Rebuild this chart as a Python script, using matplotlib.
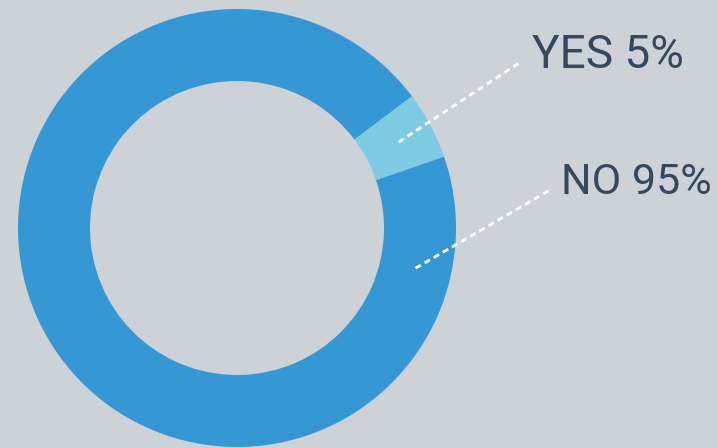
import numpy as np
import matplotlib.pyplot as plt

labels = ["YES", "NO"]
values = [5, 95]
colors = ["#7ecbe3", "#3598d4"]

bg = "#cdd2d6"
text_color = "#34495e"

W, H = 718, 448
cx, cy = 237, 220
r_out, r_in = 219, 147

fig = plt.figure(figsize=(W / 100, H / 100), dpi=100, facecolor=bg)
ax = fig.add_axes([0, 0, 1, 1])
ax.set_facecolor(bg)

start = 19
ax.pie(values, colors=colors, startangle=start, counterclock=True,
       center=(cx, cy), radius=r_out,
       wedgeprops=dict(width=r_out - r_in, linewidth=0))
ax.set_xlim(0, W)
ax.set_ylim(0, H)
ax.set_aspect("equal")
ax.axis("off")

# leader lines: start inside the ring, end next to the label
r_mid = (r_out + r_in) / 2
yes_ang = np.radians(start + values[0] / sum(values) * 360 / 2)
leaders = [
    (yes_ang, (519, H - 63), (532, H - 55), 33),
    (np.radians(-12.7), (550, H - 190), (561, H - 182), 31),
]
for (ang, end, txt, fs), lab, val in zip(leaders, labels, values):
    x0, y0 = cx + r_mid * np.cos(ang), cy + r_mid * np.sin(ang)
    ax.plot([x0, end[0]], [y0, end[1]], color="white", lw=2,
            dashes=(2.2, 1.6), solid_capstyle="butt")
    ax.text(txt[0], txt[1], f"{lab} {val}%", color=text_color,
            fontsize=fs, family="Roboto", va="center", ha="left")

fig.savefig("out.png", dpi=100, facecolor=bg)
